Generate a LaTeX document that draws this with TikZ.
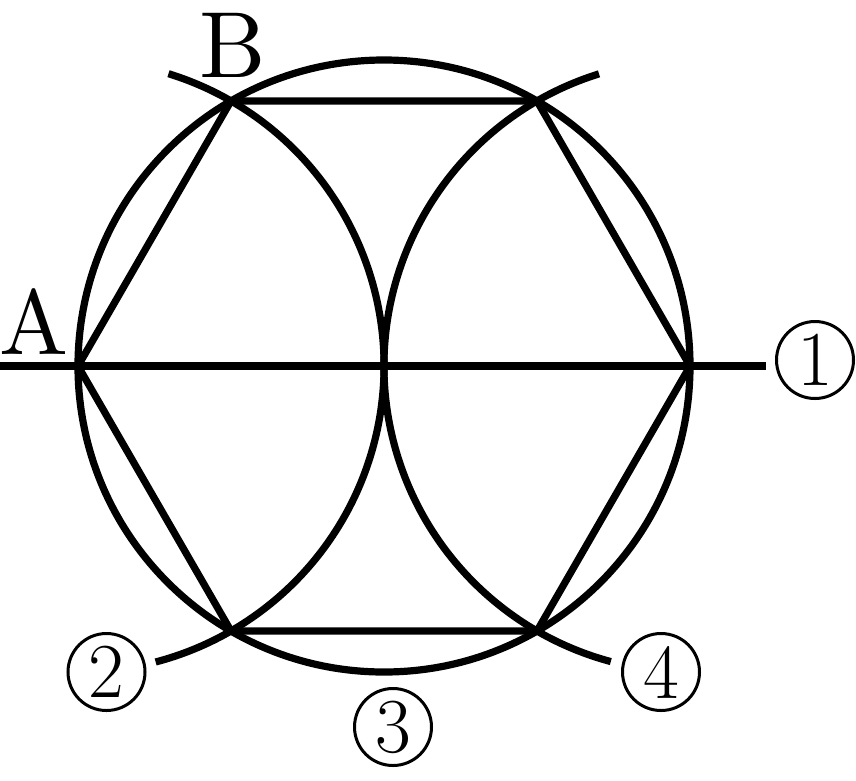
\documentclass[tikz,border=0pt]{standalone}
\tikzset{
  geo/.style={line width=7.2pt},
  lab/.style={inner sep=0pt},
  num/.style={circle,draw,line width=3pt,minimum size=77pt,inner sep=0pt}
}
\newcommand{\digitlabel}[1]{\scalebox{4.5}{\fontsize{17.28}{18}\selectfont #1}}
\begin{document}
\begin{tikzpicture}[x=1pt,y=-1pt]
\useasboundingbox (0,0) rectangle (856,780);
\coordinate (O) at (384,366);
\coordinate (P1) at (78,366);
\coordinate (P2) at (231,101);
\coordinate (P3) at (537,101);
\coordinate (P4) at (690,366);
\coordinate (P5) at (537,631);
\coordinate (P6) at (231,631);
\coordinate (L) at (0,366);
\coordinate (R) at (766,366);
\draw[geo] (O) circle[radius=306];
\draw[geo,line join=miter,miter limit=1] (P1)--(P2)--(P3)--(P4)--(P5)--(P6)--cycle;
\draw[geo] (L)--(R);
\draw[geo] (P1) ++(72.8:306pt) arc[start angle=72.8,end angle=-75.3,x radius=306pt,y radius=306pt];
\draw[geo] (P4) ++(107.3:306pt) arc[start angle=107.3,end angle=255,x radius=306pt,y radius=306pt];
\node[lab] (A) at (33.5,321.5) {\scalebox{9.2}{A}};
\node[lab] (B) at (233,45) {\scalebox{9.4}{B}};
\node[num] (n1) at (815,360) {\digitlabel{1}};
\node[num] (n2) at (106.5,672) {\digitlabel{2}};
\node[num] (n3) at (393,727) {\digitlabel{3}};
\node[num] (n4) at (661,672) {\digitlabel{4}};
\end{tikzpicture}
\end{document}
